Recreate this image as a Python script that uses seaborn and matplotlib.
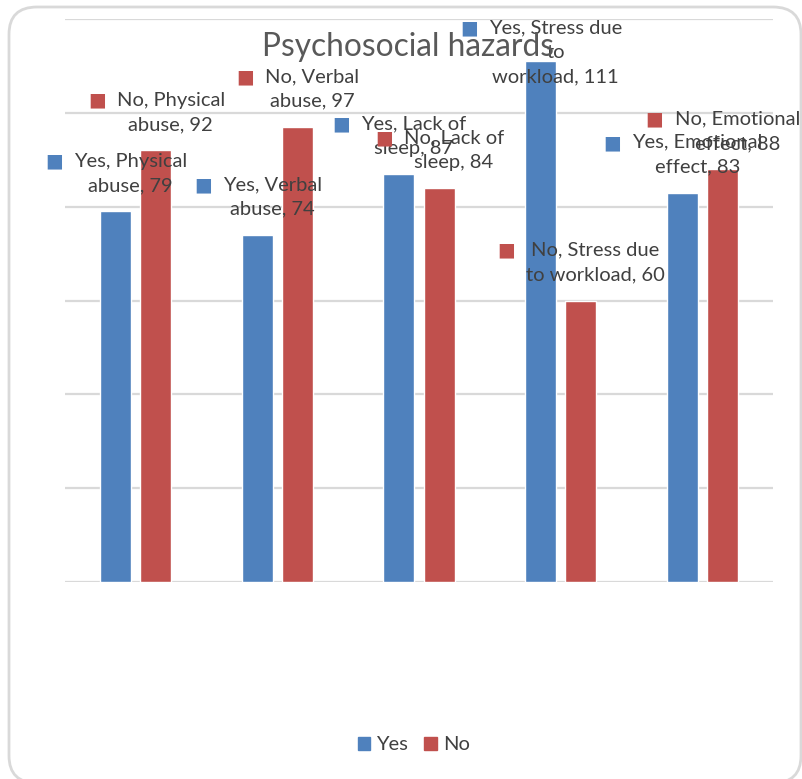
import numpy as np
import pandas as pd
import seaborn as sns
import matplotlib.pyplot as plt
from matplotlib.patches import FancyBboxPatch

# chart data
categories = ['Physical abuse', 'Verbal abuse', 'Lack of sleep', 'Stress due to workload', 'Emotional effect']
yes_values = [79, 74, 87, 111, 83]
no_values = [92, 97, 84, 60, 88]

# data label text, wrapped the way the original shows it
yes_label_tpl = ['Yes, Physical\nabuse, {v}', 'Yes, Verbal\nabuse, {v}', 'Yes, Lack of\nsleep, {v}',
                 'Yes, Stress due\nto\nworkload, {v}', 'Yes, Emotional\neffect, {v}']
no_label_tpl = ['No, Physical\nabuse, {v}', 'No, Verbal\nabuse, {v}', 'No, Lack of\nsleep, {v}',
                'No, Stress due\nto workload, {v}', 'No, Emotional\neffect, {v}']

# label offsets above each bar top (pixels)
yes_label_dy = [38, 38, 38, 9, 38]
no_label_dy = [38, 38, 38, 38, 38]

colors = {'Yes': '#4F81BD', 'No': '#C0504D'}
text_color = '#404040'
grid_color = '#D9D9D9'

df = pd.DataFrame({
    'category': categories * 2,
    'count': yes_values + no_values,
    'response': ['Yes'] * len(categories) + ['No'] * len(categories),
})

sns.set_style('white')
plt.rcParams['font.family'] = ['Lato', 'DejaVu Sans']

fig = plt.figure(figsize=(8.03, 7.79), dpi=100)
ax = fig.add_axes([65 / 803, 197 / 779, 708 / 803, 563 / 779])

sns.barplot(data=df, x='category', y='count', hue='response', palette=colors,
            width=0.565, gap=0.225, ax=ax, legend=False, zorder=2, saturation=1)

ax.set_ylim(0, 120)
ax.set_xlim(-0.5, len(categories) - 0.5)
ax.set_yticks(np.arange(0, 121, 20))
ax.yaxis.grid(True, color=grid_color, linewidth=1.6, zorder=0)
ax.set_axisbelow(True)
ax.set_xticks([])
ax.set_yticklabels([])
ax.tick_params(left=False, bottom=False)
ax.set_xlabel('')
ax.set_ylabel('')
for s in ax.spines.values():
    s.set_visible(False)

fig.text(0.508, 1 - 47 / 779, 'Psychosocial hazards', ha='center', va='center',
         fontsize=22.8, color='#595959', zorder=1)

# data labels with legend key
groups = [('Yes', yes_values, yes_label_tpl, yes_label_dy), ('No', no_values, no_label_tpl, no_label_dy)]
for gi, (name, vals, tpls, dys) in enumerate(groups):
    bars = ax.containers[gi]
    for bar, v, tpl, dy in zip(bars, vals, tpls, dys):
        txt = tpl.format(v=v)
        cx = bar.get_x() + bar.get_width() / 2
        t = ax.annotate(txt, xy=(cx, bar.get_height()), xytext=(15, dy),
                        textcoords='offset pixels', ha='center', va='center',
                        fontsize=14.5, color=text_color, linespacing=1.55,
                        multialignment='center', zorder=5, annotation_clip=False)
        n = txt.count('\n') + 1
        frac = 1 - 0.42 / n
        ax.annotate('\u25A0', xy=(0, frac), xycoords=t, xytext=(-11, 0),
                    textcoords='offset pixels', ha='right', va='center',
                    fontsize=13.5, color=colors[name], family='DejaVu Sans', zorder=5)

# legend at bottom
handles = [plt.Rectangle((0, 0), 1, 1, color=colors[k]) for k in ['Yes', 'No']]
fig.legend(handles, ['Yes', 'No'], loc='center', bbox_to_anchor=(0.515, 34 / 779),
           ncol=2, frameon=False, fontsize=14.5, handlelength=0.62, handleheight=0.62,
           handletextpad=0.3, columnspacing=0.8, labelcolor=text_color)

# rounded chart border
border = FancyBboxPatch((9 / 803, -4 / 779), 792 / 803, 776 / 779,
                        boxstyle='round,pad=0,rounding_size=0.035',
                        transform=fig.transFigure, facecolor='none',
                        edgecolor=grid_color, linewidth=2, zorder=0)
fig.patches.append(border)

fig.savefig('out.png', dpi=100)
